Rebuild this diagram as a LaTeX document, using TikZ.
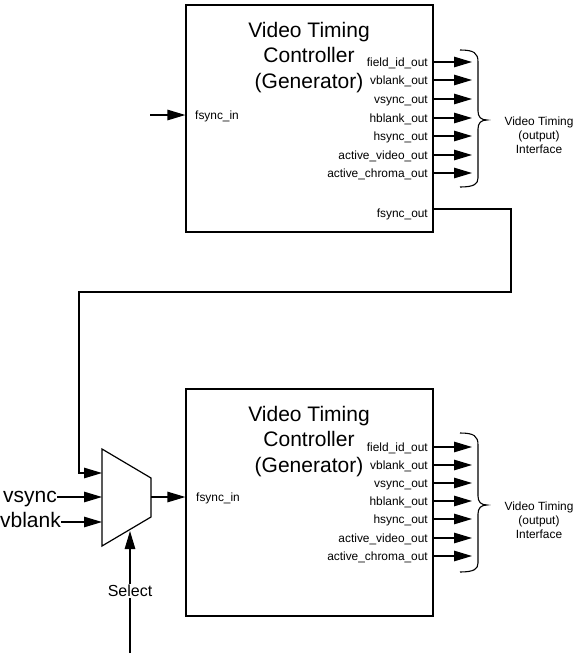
\documentclass[tikz,border=0pt]{standalone}
\usepackage{fontspec}
\setmainfont{Liberation Sans}
\usetikzlibrary{arrows.meta}
\begin{document}
\begin{tikzpicture}[x=1pt,y=-1pt,
  wire/.style={line width=1.2pt},
  sig/.style={wire,-{Triangle[length=18pt,width=10.5pt]}},
  box/.style={draw,line width=1.2pt,minimum width=247pt,minimum height=227pt,inner sep=0pt},
  lbl/.style={font=\fontsize{11.9}{14}\selectfont,inner sep=0pt},
  ttl/.style={font=\fontsize{21}{25}\selectfont,inner sep=0pt,anchor=base},
  big/.style={font=\fontsize{21}{25}\selectfont,inner sep=0pt,anchor=base east},
  bracepath/.style={line width=1.1pt}]
\useasboundingbox (0,0) rectangle (587,659);

% ---------- top generator ----------
\node[box] (g1) at (309.5,118.5) {};
\node[ttl] (g1t1) at (309,37) {Video Timing};
\node[ttl] (g1t2) at (309,62) {Controller};
\node[ttl] (g1t3) at (309,88) {(Generator)};

\node[lbl,anchor=base west] (fi1) at (195,119) {fsync\_in};
\coordinate (s1) at (150,115);
\draw[sig] (s1) -- (s1 -| g1.west);

\foreach \y/\t [count=\i] in {62/field\_id\_out,80/vblank\_out,99/vsync\_out,118/hblank\_out,136/hsync\_out,155/active\_video\_out,173/active\_chroma\_out}{
  \node[lbl,anchor=base east] (ta\i) at (428,\y+4.5) {\t};
  \coordinate (te\i) at (472,\y);
  \draw[sig] (te\i -| g1.east) -- (te\i);
}
\draw[bracepath] (460,50) .. controls (474,50) and (478,53) .. (478,62) -- (478,111)
  .. controls (478,117) and (481,120) .. (487,120)
  .. controls (481,120) and (478,123) .. (478,129) -- (478,178)
  .. controls (478,184) and (474,187) .. (460,187);
\node[lbl,anchor=base] (vt1a) at (539,125) {Video Timing};
\node[lbl,anchor=base] (vt1b) at (539,139) {(output)};
\node[lbl,anchor=base] (vt1c) at (539,153) {Interface};

\node[lbl,anchor=base east] (fo1) at (428,217) {fsync\_out};

% ---------- mux ----------
\coordinate (m1) at (102,449);
\coordinate (m2) at (151,478);
\coordinate (m3) at (151,517);
\coordinate (m4) at (102,546);
\draw[line width=1.2pt] (m1) -- (m2) -- (m3) -- (m4) -- cycle;

\coordinate (w1) at (433,209);
\coordinate (w2) at (511,209);
\coordinate (w3) at (511,292);
\coordinate (w4) at (79,292);
\coordinate (w5) at (79,473);
\draw[sig] (w1) -- (w2) -- (w3) -- (w4) -- (w5) -- (w5 -| m1);

\node[big] (vs) at (57,502.5) {vsync};
\coordinate (vsi) at (57,497);
\draw[sig] (vsi) -- (vsi -| m1);
\node[big] (vb) at (61,527.5) {vblank};
\coordinate (vbi) at (61,522);
\draw[sig] (vbi) -- (vbi -| m1);

\coordinate (sb) at (130,653);
\coordinate (st) at (130,531);
\draw[sig] (sb) -- (st);
\node[font=\fontsize{16}{19}\selectfont,fill=white,inner sep=1.5pt] (sel) at (130,591) {Select};

% ---------- bottom generator ----------
\node[box] (g2) at (309.5,502.5) {};
\node[ttl] (g2t1) at (309,421.5) {Video Timing};
\node[ttl] (g2t2) at (309,446) {Controller};
\node[ttl] (g2t3) at (309,472) {(Generator)};

\coordinate (mo) at (151,497);
\draw[sig] (mo) -- (mo -| g2.west);
\node[lbl,anchor=base west] (fi2) at (196,501) {fsync\_in};

\foreach \y/\t [count=\i] in {447/field\_id\_out,465/vblank\_out,483/vsync\_out,501/hblank\_out,519/hsync\_out,538/active\_video\_out,556/active\_chroma\_out}{
  \node[lbl,anchor=base east] (ba\i) at (428,\y+4.5) {\t};
  \coordinate (be\i) at (472,\y);
  \draw[sig] (be\i -| g2.east) -- (be\i);
}
\draw[bracepath] (460,433) .. controls (474,433) and (478,436) .. (478,445) -- (478,496)
  .. controls (478,502) and (481,505) .. (487,505)
  .. controls (481,505) and (478,508) .. (478,514) -- (478,563)
  .. controls (478,569) and (474,572) .. (460,572);
\node[lbl,anchor=base] (vt2a) at (539,510) {Video Timing};
\node[lbl,anchor=base] (vt2b) at (539,524) {(output)};
\node[lbl,anchor=base] (vt2c) at (539,538) {Interface};
\end{tikzpicture}
\end{document}
